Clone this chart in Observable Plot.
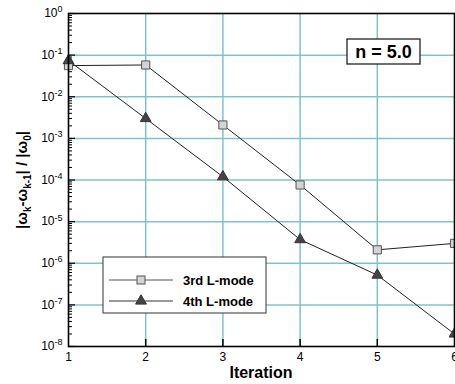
<!DOCTYPE html>
<html><head><meta charset="utf-8">
<script src="https://cdn.jsdelivr.net/npm/d3@7"></script>
<script src="https://cdn.jsdelivr.net/npm/@observablehq/plot@0.6"></script>
<style>body{margin:0;background:#fff} svg{font-family:Arial,"Liberation Sans",sans-serif}</style>
</head><body><div id="chart"></div>
<script>
const iterations = [1, 2, 3, 4, 5, 6];
const mode3 = [0.056, 0.058, 2.1e-3, 7.6e-5, 2.1e-6, 3.0e-6];
const mode4 = [0.074, 3.0e-3, 1.2e-4, 3.7e-6, 5.2e-7, 2.0e-8];
const seriesNames = ["3rd L-mode", "4th L-mode"];
const xTicks = [1, 2, 3, 4, 5, 6];
const yExponents = [0, -1, -2, -3, -4, -5, -6, -7, -8];
const annotation = "n = 5.0";
const xLabel = "Iteration";

const yMajor = yExponents.map(e => Math.pow(10, e));
const yMinor = [];
yExponents.slice(1).forEach(e => { for (let m = 2; m <= 9; m++) yMinor.push(m * Math.pow(10, e)); });
const gridXv = xTicks.slice(1, -1);
const gridYv = yMajor.slice(1, -1);

const d3s = iterations.map((x, i) => ({x, y: mode3[i]}));
const d4s = iterations.map((x, i) => ({x, y: mode4[i]}));

const gridColor = "#7cc6c6";

const plot = Plot.plot({
  width: 455, height: 384,
  marginLeft: 68, marginRight: 1, marginTop: 13, marginBottom: 38,
  x: {domain: [1, 6]},
  y: {type: "log", domain: [1e-8, 1]},
  style: {fontFamily: "Arial, 'Liberation Sans', sans-serif", fontSize: "12px", background: "#fff"},
  marks: [
    Plot.gridX(gridXv, {stroke: gridColor, strokeOpacity: 1, strokeWidth: 1.5}),
    Plot.gridY(gridYv, {stroke: gridColor, strokeOpacity: 1, strokeWidth: 1.5}),
    Plot.axisX({ticks: xTicks, tickSize: 0, tickPadding: 6, tickFormat: d3.format("d"), fontSize: 12, label: null, fill: "#000"}),
    Plot.axisX({ticks: gridXv, tickSize: -7, tickFormat: () => "", label: null, strokeWidth: 1.5}),
    Plot.axisY({ticks: yMajor, tickSize: -7, tickFormat: () => "", label: null, strokeWidth: 1.2}),
    Plot.axisY({ticks: yMinor, tickSize: -4, tickFormat: () => "", label: null, strokeWidth: 1}),
    Plot.axisY({ticks: yMajor, tickSize: 0, tickPadding: 6, tickFormat: d => "10^" + Math.round(Math.log10(d)), label: null, fontSize: 12, fill: "#000"}),
    Plot.line(d3s, {x: "x", y: "y", stroke: "#222", strokeWidth: 1}),
    Plot.line(d4s, {x: "x", y: "y", stroke: "#222", strokeWidth: 1}),
    Plot.dot(d3s, {x: "x", y: "y", symbol: "square", r: 4.6, fill: "#d4d4d4", stroke: "#555", strokeWidth: 1}),
    Plot.dot(d4s, {x: "x", y: "y", symbol: "triangle", r: 4.0, fill: "#444", stroke: "#333", strokeWidth: 1}),
    Plot.frame({stroke: "#000", strokeWidth: 1.6})
  ]
});
document.getElementById("chart").appendChild(plot);

const svg = d3.select(plot);
// superscripts on y tick labels
svg.selectAll('g[aria-label="y-axis tick label"] text').each(function() {
  const t = d3.select(this);
  const s = t.text();
  const parts = s.split("^");
  t.text(null);
  t.append("tspan").text(parts[0]);
  t.append("tspan").attr("dy", "-0.55em").attr("font-size", "9px").text(parts[1]);
});

// y label
const yl = svg.append("text")
  .attr("transform", "translate(27,180) rotate(-90)")
  .attr("text-anchor", "middle")
  .attr("font-weight", "bold").attr("font-size", "15px").attr("fill", "#000");
yl.append("tspan").text("|ω");
yl.append("tspan").attr("dy", 4).attr("font-size", "10px").text("k");
yl.append("tspan").attr("dy", -4).text("-ω");
yl.append("tspan").attr("dy", 4).attr("font-size", "10px").text("k-1");
yl.append("tspan").attr("dy", -4).text("| / |ω");
yl.append("tspan").attr("dy", 4).attr("font-size", "10px").text("0");
yl.append("tspan").attr("dy", -4).text("|");

// x label
svg.append("text").attr("x", 261).attr("y", 378).attr("text-anchor", "middle")
  .attr("font-weight", "bold").attr("font-size", "16px").attr("fill", "#000").text(xLabel);

// annotation box
const ann = svg.append("g");
ann.append("rect").attr("x", 347).attr("y", 39).attr("width", 73).attr("height", 25)
  .attr("fill", "#fff").attr("stroke", "#222").attr("stroke-width", 1.3);
ann.append("text").attr("x", 383.5).attr("y", 58).attr("text-anchor", "middle")
  .attr("font-weight", "bold").attr("font-size", "18px").attr("fill", "#000").text(annotation);

// legend
const lg = svg.append("g");
lg.append("rect").attr("x", 103).attr("y", 257).attr("width", 163).attr("height", 56)
  .attr("fill", "#fff").attr("stroke", "#333").attr("stroke-width", 1);
const rows = [280, 301];
rows.forEach((ry, i) => {
  lg.append("line").attr("x1", 109).attr("x2", 173).attr("y1", ry).attr("y2", ry)
    .attr("stroke", i === 0 ? "#555" : "#333").attr("stroke-width", 1);
  if (i === 0) {
    lg.append("rect").attr("x", 137).attr("y", ry - 4).attr("width", 8).attr("height", 8)
      .attr("fill", "#d4d4d4").attr("stroke", "#555");
  } else {
    lg.append("path").attr("d", d3.symbol(d3.symbolTriangle, Math.PI * 4.0 * 4.0)()).attr("transform", `translate(141,${ry})`)
      .attr("fill", "#444").attr("stroke", "#333");
  }
  lg.append("text").attr("x", 183).attr("y", ry + 4.5).attr("text-anchor", "start").attr("font-weight", "bold")
    .attr("font-size", "13px").attr("fill", "#000").text(seriesNames[i]);
});
</script></body></html>
